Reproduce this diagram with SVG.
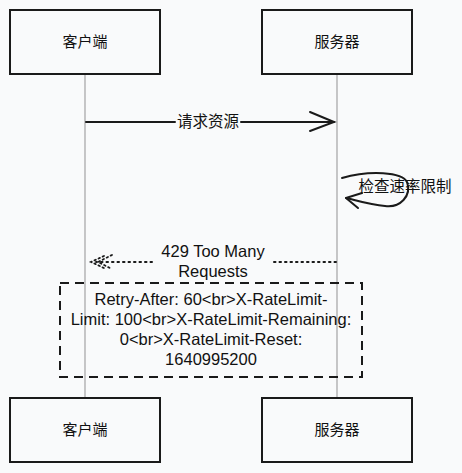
<svg xmlns="http://www.w3.org/2000/svg" width="462" height="473" viewBox="0 0 462 473">
<defs>
<style>
.box{fill:#f9fafb;stroke:#1a1a1a;stroke-width:2}
.life{stroke:#aaaaaa;stroke-width:1.3}
.t{font-family:"Noto Sans CJK SC","Noto Sans",sans-serif;font-size:15px;fill:#111;text-anchor:middle}
.m{font-family:"Liberation Sans","Noto Sans CJK SC",sans-serif;font-size:16.5px;fill:#111;text-anchor:middle}
.msg{stroke:#1a1a1a;stroke-width:2;fill:none;stroke-linecap:round}
</style>
</defs>
<rect width="462" height="473" fill="#f9fafb"/>
<g id="lifelines">
<line class="life" x1="85" y1="74" x2="85" y2="398"/>
<line class="life" x1="337" y1="74" x2="337" y2="398"/>
</g>
<g id="client-top"><rect class="box" x="10" y="10" width="150" height="64"/><text class="t" x="85" y="47">客户端</text></g>
<g id="server-top"><rect class="box" x="262" y="10" width="150" height="64"/><text class="t" x="337" y="47">服务器</text></g>
<g id="client-bottom"><rect class="box" x="10" y="398" width="150" height="64"/><text class="t" x="85" y="435">客户端</text></g>
<g id="server-bottom"><rect class="box" x="262" y="398" width="150" height="64"/><text class="t" x="337" y="435">服务器</text></g>
<g id="connectors">
<path class="msg" d="M86 122 L175 122 M241 122 L334 122"/>
<path class="msg" d="M310 112 L334 122 L310 131"/>
<text class="t" x="208" y="127" style="font-size:15.5px">请求资源</text>
<path class="msg" d="M342 178 C370 170 402 172 407 182 C412 196 400 208 385 206 C370 205 355 200 346 198"/>
<path class="msg" d="M346 198 L362 193 M346 198 L358 208"/>
<text class="t" x="405" y="192" style="font-size:15.5px">检查速率限制</text>
<path d="M336 262 L274 262 M152 262 L96 262" stroke="#1a1a1a" stroke-width="2" stroke-dasharray="1.5 4" fill="none" stroke-linecap="round"/>
<path d="M104 256 L91 262 L104 268 M112 255 L98 262 L112 269" stroke="#1a1a1a" stroke-width="1.8" stroke-dasharray="1.5 3" fill="none" stroke-linecap="round"/>
<text class="m" x="213" y="257">429 Too Many</text>
<text class="m" x="213" y="277">Requests</text>
</g>
<g id="note">
<rect x="60" y="283" width="302" height="94" fill="none" stroke="#1a1a1a" stroke-width="2" stroke-dasharray="9 6"/>
<text class="m" x="211" y="305">Retry-After: 60&lt;br&gt;X-RateLimit-</text>
<text class="m" x="211" y="325">Limit: 100&lt;br&gt;X-RateLimit-Remaining:</text>
<text class="m" x="211" y="345">0&lt;br&gt;X-RateLimit-Reset:</text>
<text class="m" x="211" y="365">1640995200</text>
</g>
</svg>
